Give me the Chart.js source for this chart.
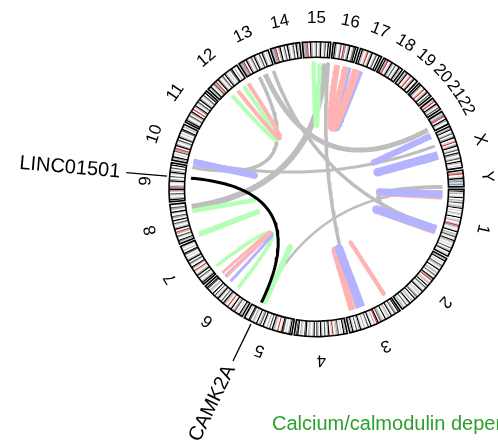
<!DOCTYPE html>
<html>
<head>
<meta charset="utf-8">
<script src="https://cdn.jsdelivr.net/npm/chart.js@4.4.1/dist/chart.umd.min.js"></script>
<style>
  html, body { margin: 0; padding: 0; background: #fff; overflow: hidden; }
  #wrap { position: relative; width: 498px; height: 446px; }
  #wrap canvas { position: absolute; left: 0; top: 0; }
</style>
</head>
<body>
<div id="wrap">
  <canvas id="bands"  width="498" height="446"></canvas>
  <canvas id="frames" width="498" height="446"></canvas>
  <canvas id="links"  width="498" height="446"></canvas>
</div>
<script>
// =============================================
// Circos plot – chromosomes, links, gene labels
// =============================================

// ── Data ──────────────────────────────────────
const chromNames   = ['1','2','3','4','5','6','7','8','9','10','11','12',
                      '13','14','15','16','17','18','19','20','21','22','X','Y'];
const chromLengths = [249.25, 243.2, 198.0, 191.15, 180.9, 171.1, 159.1, 146.4,
                      141.2, 135.5, 135.0, 133.85, 115.2, 107.35, 102.5, 90.35,
                      81.2, 78.1, 59.1, 63.0, 48.1, 51.3, 155.3, 59.4];   // Mb

// cytoband pattern per chromosome (one letter = one band)
const chromBands = [
  'wklgwlkwgldwlgkwlwglwkwlgwlrblwlkwgldlwkglwlwdwgkwlw',
  'wgkwlwdglwkwlgwdlwkgrwlgwkwdlwgkwllwgdwkwlgwklwdwlgw',
  'wkwgdwlkwglwkwlgdwkrwgwlkwdlwgwlkgwdwlkgw',
  'wgkwlwdglwrlwkgwdwlkwgdwklwlgwkdwlgwkdw',
  'wkgwlwdklwrwlgkwdwgwlkwdgwkwlgwdkwlw',
  'wgkwlwdgwklwrwlgkwdwlkgwdwkwlgwdkw',
  'wkgwldwkgwlrwgkwldwkgwlwdkwgwlw',
  'wgkwldwgrwkgwldwkwgdwlkwgdwl',
  'wkgwldwgkrblwlkgwdwlkgwdwkw',
  'wgkwlwdgrwkgwldwkgwlwdkwgw',
  'wkgwldwgkwrwgkwldwkgwldwkw',
  'wgkwldgrwkgwldwkgwlwdkwgwl',
  'bgbrwkgwldwkgwldwkgwlw',
  'bgbrwgkwldwkgwldwkgw',
  'bgbrwkgwldwgkwldwkw',
  'wkgwldwrbwgkwldkw',
  'wkgwlrwgkwldwkw',
  'wkgrwlkgwdwlkgw',
  'wgkwlrwgkwl',
  'wkgwlrwgkwdw',
  'blrwkgwdw',
  'blbrwkgwl',
  'wgkwldwgkwlrwgkwldwkgwldwkgwlw',
  'wgrwlkgblbl'
];
const bandColors = { w:'#ffffff', l:'#d6d6d6', g:'#b0b0b0', d:'#5a5a5a',
                     k:'#000000', r:'#e0352c', b:'#7f96b8' };

// links: chromosome + position (Mb) of both ends
const linkFromChr = ['15','22','13','13','15','1','Y','10',
                     '12','12','15','16','16','16','10','8','8','6','6','6','5',
                     'X','X','1','1','1','1','3','3','3','9'];
const linkFromPos = [88.2, 35.7, 43.5, 108, 101.5, 9.2, 59, 14.8,
                     48.4, 79.7, 38.4, 77.8, 27.1, 64.0, 9, 108, 6, 75.3, 116.8, 143.6, 136,
                     2, 89, 27, 21, 177, 170, 165, 126, 16, 91.6];
const linkToChr   = ['8','13','9','1','3','5','1','X',
                     '12','12','15','17','17','17','10','8','8','7','6','6','5',
                     'X','X','1','1','1','1','3','3','3','5'];
const linkToPos   = [127.4, 71.2, 137.6, 165.8, 143.2, 147, 161, 48.9,
                     110.1, 133.5, 64.2, 28.9, 15.1, 5.9, 11, 111, 9, 24.0, 148.2, 166.6, 138,
                     4, 92, 29, 23, 179, 173, 168, 129, 18, 149.6];
const linkColor   = ['grey','grey','grey','grey','grey','grey','grey','grey',
                     'green','red','green','blue','red','red','blue','green','green','green','blue','red','green',
                     'blue','blue','red','blue','red','blue','red','blue','red','black'];
const linkWidth   = [6, 5, 3.5, 3.5, 3.5, 2.5, 4, 3,
                     4, 4, 4, 5, 6, 6, 6.5, 4, 5, 3.5, 3, 3, 5,
                     6, 8, 7, 7, 7, 8, 6, 8, 4, 3];
const palette = { grey:'#bebebe', red:'#ffb3b3', blue:'#b3b3ff', green:'#b3ffb3', black:'#000000' };

// highlighted genes
const geneNames = ['LINC01501', 'CAMK2A'];
const geneChr   = ['9', '5'];
const genePos   = [91.6, 149.6];
const geneTitle = 'Calcium/calmodulin dependent protein kinase II alpha';

// ── Geometry ──────────────────────────────────
const W = 498, H = 446;
const CX = 316.5, CY = 189.2;              // circle centre on the page
const R_OUT = 147.5, R_IN = 132, R_LINK = 126, R_LABEL = 171;
const R_PTR0 = 150, R_PTR1 = 191, R_GENE = 197;
const GAP = 1;                              // degrees between chromosomes

const totalMb  = chromLengths.reduce((a, b) => a + b, 0);
const degPerMb = (360 - GAP * chromNames.length) / totalMb;
const chromStart = [];
let acc = 0;
chromLengths.forEach(len => { chromStart.push(acc); acc += len * degPerMb + GAP; });

const rad     = d => d * Math.PI / 180;
const angleOf = (chr, pos) => chromStart[chromNames.indexOf(chr)] + pos * degPerMb;
const polar   = (deg, r) => ({ x: r * Math.cos(rad(deg)), y: r * Math.sin(rad(deg)) });

const pad = {
  left:   Math.max(0, 2 * CX - W), right:  Math.max(0, W - 2 * CX),
  top:    Math.max(0, 2 * CY - H), bottom: Math.max(0, H - 2 * CY)
};
const FONT = '"Liberation Sans", Arial, Helvetica, sans-serif';

// ── Ring (two stacked doughnuts) ──────────────
const bandData = [], bandFill = [];
const frameData = [], frameBorder = [], frameWidth = [];
const gapMb = GAP / degPerMb;
chromNames.forEach((name, i) => {
  const pattern = chromBands[i];
  const step = chromLengths[i] / pattern.length;
  [...pattern].forEach(ch => { bandData.push(step); bandFill.push(bandColors[ch]); });
  bandData.push(gapMb); bandFill.push('rgba(0,0,0,0)');
  frameData.push(chromLengths[i], gapMb);
  frameBorder.push('#000000', 'rgba(0,0,0,0)');
  frameWidth.push(1.6, 0);
});

const ringOptions = {
  responsive: false, animation: false, events: [],
  rotation: 90, circumference: 360,
  radius: R_OUT, cutout: (R_IN / R_OUT * 100) + '%',
  layout: { padding: pad },
  plugins: { legend: { display: false }, tooltip: { enabled: false } }
};

new Chart(document.getElementById('bands'), {
  type: 'doughnut',
  data: { datasets: [{ data: bandData, backgroundColor: bandFill, borderWidth: 0 }] },
  options: ringOptions
});

new Chart(document.getElementById('frames'), {
  type: 'doughnut',
  data: { datasets: [{ data: frameData, backgroundColor: 'rgba(0,0,0,0)',
                       borderColor: frameBorder, borderWidth: frameWidth,
                       borderJoinStyle: 'miter' }] },
  options: ringOptions
});

// ── Links ─────────────────────────────────────
function bezier(a1, a2) {
  const p0 = polar(a1, R_LINK), p2 = polar(a2, R_LINK);   // control point = centre
  const pts = [];
  for (let i = 0; i <= 60; i++) {
    const t = i / 60, u = 1 - t;
    pts.push({ x: u * u * p0.x + t * t * p2.x, y: u * u * p0.y + t * t * p2.y });
  }
  return pts;
}

const layers = linkColor.map((col, i) => ({
  data: bezier(angleOf(linkFromChr[i], linkFromPos[i]), angleOf(linkToChr[i], linkToPos[i])),
  borderColor: palette[col], borderWidth: linkWidth[i]
}));

geneNames.forEach((g, i) => {
  const a = angleOf(geneChr[i], genePos[i]);
  layers.push({ data: [polar(a, R_PTR0), polar(a, R_PTR1)], borderColor: '#000', borderWidth: 1.3 });
});

const datasets = layers.map(l => ({
  ...l, showLine: true, pointRadius: 0, fill: false, tension: 0,
  borderCapStyle: 'butt', borderJoinStyle: 'round'
})).reverse();   // first dataset is painted last

// ── Text ──────────────────────────────────────
const textPlugin = {
  id: 'circosText',
  afterDatasetsDraw(chart) {
    const { ctx } = chart;
    const px = v => chart.scales.x.getPixelForValue(v);
    const py = v => chart.scales.y.getPixelForValue(v);
    ctx.save();
    ctx.fillStyle = '#000';
    ctx.textAlign = 'center';
    ctx.textBaseline = 'middle';
    ctx.font = `17px ${FONT}`;
    chromNames.forEach((name, i) => {
      const mid = chromStart[i] + chromLengths[i] * degPerMb / 2;
      const p = polar(mid, R_LABEL);
      ctx.save();
      ctx.translate(px(p.x), py(p.y));
      ctx.rotate(rad(mid + 90));
      ctx.fillText(name, 0, 0);
      ctx.restore();
    });

    ctx.font = `20px ${FONT}`;
    ctx.textAlign = 'right';
    geneNames.forEach((g, i) => {
      const a = angleOf(geneChr[i], genePos[i]);
      const p = polar(a, R_GENE);
      ctx.save();
      ctx.translate(px(p.x), py(p.y));
      ctx.rotate(rad(a - 180));
      ctx.fillText(g, 0, 0);
      ctx.restore();
    });

    ctx.fillStyle = '#2ca02c';
    ctx.textAlign = 'left';
    ctx.textBaseline = 'alphabetic';
    ctx.fillText(geneTitle, 272, 429.5);
    ctx.restore();
  }
};

new Chart(document.getElementById('links'), {
  type: 'scatter',
  data: { datasets },
  options: {
    responsive: false, animation: false, events: [],
    layout: { padding: 0 },
    scales: {
      x: { type: 'linear', display: false, min: -CX, max: W - CX },
      y: { type: 'linear', display: false, min: -CY, max: H - CY, reverse: true }
    },
    plugins: { legend: { display: false }, tooltip: { enabled: false } }
  },
  plugins: [textPlugin]
});
</script>
</body>
</html>
